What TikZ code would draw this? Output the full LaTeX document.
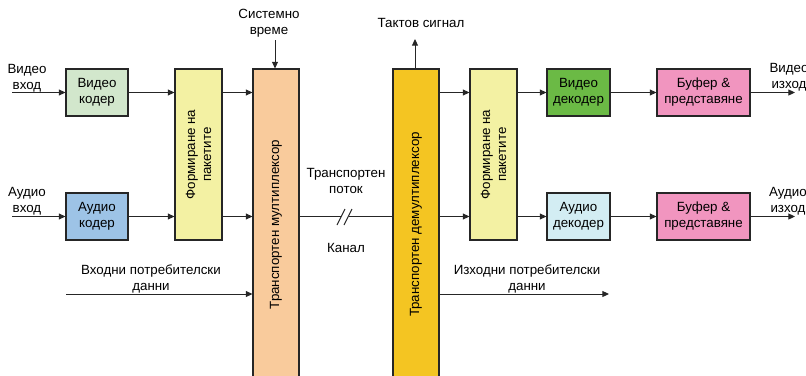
\documentclass[tikz,border=0pt]{standalone}
\usepackage{fontspec}
\setmainfont{Liberation Sans}
\usetikzlibrary{arrows.meta}

\definecolor{vcodfill}{HTML}{D2E7CC}
\definecolor{acodfill}{HTML}{9DC3E6}
\definecolor{packfill}{HTML}{F3F1A3}
\definecolor{muxfill}{HTML}{F9CB9C}
\definecolor{demuxfill}{HTML}{F4C522}
\definecolor{vdecfill}{HTML}{6BBA45}
\definecolor{adecfill}{HTML}{D3EDF3}
\definecolor{buffill}{HTML}{F195BF}

\begin{document}
\begin{tikzpicture}[x=0.75pt,y=-0.75pt,font=\fontsize{10}{12}\selectfont,block/.style={draw=black!85,line width=0.8pt,align=center,inner sep=0pt},flow/.style={draw=black!85,line width=0.75pt,-{Triangle[length=5pt,width=4.5pt]}}]
\tikzstyle{small block} = [block,minimum width=46.5pt,minimum height=35.25pt]
\tikzstyle{tall block} = [block,minimum width=35.25pt,minimum height=128.25pt]
\tikzstyle{mux block} = [block,minimum width=34.5pt,minimum height=233.25pt]
\tikzstyle{sig text} = [align=center,inner sep=0pt]

\useasboundingbox (0,0) rectangle (806,375);

% coders
\node[small block,fill=vcodfill] (vcod) at (97,92.5) {Видео\\кодер};
\node[small block,fill=acodfill] (acod) at (97,216.5) {Аудио\\кодер};
\node[tall block,fill=packfill] (pack1) at (198.5,154.5) {};
\node[rotate=90,sig text] (pack1txt) at (pack1) {Формиране на\\пакетите};

% multiplexer / demultiplexer
\node[mux block,fill=muxfill] (mux) at (276,224.5) {};
\node[rotate=90,sig text] (muxtxt) at (mux) {Транспортен мултиплексор};
\node[mux block,fill=demuxfill] (demux) at (416,224.5) {};
\node[rotate=90,sig text] (demuxtxt) at (demux) {Транспортен демултиплексор};

% decoders
\node[tall block,fill=packfill] (pack2) at (493.5,154.5) {};
\node[rotate=90,sig text] (pack2txt) at (pack2) {Формиране на\\пакетите};
\node[small block,minimum width=47.25pt,fill=vdecfill] (vdec) at (578.5,92.5) {Видео\\декодер};
\node[small block,minimum width=47.25pt,fill=adecfill] (adec) at (578.5,216.5) {Аудио\\декодер};
\node[small block,minimum width=69.75pt,fill=buffill] (vbuf) at (703.5,92.5) {Буфер \&\\представяне};
\node[small block,minimum width=69.75pt,fill=buffill] (abuf) at (703.5,216.5) {Буфер \&\\представяне};

% inputs and outputs
\coordinate (vin) at (12,92.5);
\coordinate (ain) at (12,216.5);
\coordinate (udin) at (66,294);
\coordinate (udout) at (609,294);
\coordinate (systime) at (275,40);
\coordinate (clk) at (415,39);
\coordinate (vout) at (795,92.5);
\coordinate (aout) at (795,216.5);
\coordinate (brkl) at (341,216.5);
\coordinate (brkr) at (349,216.5);

\node[sig text] (vintxt) at (27,78) {Видео\\вход};
\node[sig text] (aintxt) at (27,201) {Аудио\\вход};
\node[sig text] (udintxt) at (151,278.5) {Входни потребителски\\данни};
\node[sig text] (udouttxt) at (527,278.5) {Изходни потребителски\\данни};
\node[sig text] (systimetxt) at (269,23) {Системно\\време};
\node[sig text] (clktxt) at (421,23) {Тактов сигнал};
\node[sig text] (vouttxt) at (789,77) {Видео\\изход};
\node[sig text] (aouttxt) at (788,201) {Аудио\\изход};
\node[sig text] (streamtxt) at (346,180.5) {Транспортен\\поток};
\node[sig text] (chantxt) at (346,248) {Канал};

% video path
\draw[flow] (vin) -- (vcod);
\draw[flow] (vcod) -- (vcod -| pack1.west);
\draw[flow] (pack1.east |- vcod) -- (mux.west |- vcod);
\draw[flow] (demux.east |- vdec) -- (pack2.west |- vdec);
\draw[flow] (pack2.east |- vdec) -- (vdec);
\draw[flow] (vdec) -- (vbuf);
\draw[flow] (vbuf) -- (vout);

% audio path
\draw[flow] (ain) -- (acod);
\draw[flow] (acod) -- (acod -| pack1.west);
\draw[flow] (pack1.east |- acod) -- (mux.west |- acod);
\draw[flow] (demux.east |- adec) -- (pack2.west |- adec);
\draw[flow] (pack2.east |- adec) -- (adec);
\draw[flow] (adec) -- (abuf);
\draw[flow] (abuf) -- (aout);

% user data, timing
\draw[flow] (udin) -- (udin -| mux.west);
\draw[flow] (demux.east |- udout) -- (udout);
\draw[flow] (systime) -- (systime |- mux.north);
\draw[flow] (clk |- demux.north) -- (clk);

% channel
\draw[draw=black!85,line width=0.75pt] (mux.east |- brkl) -- (brkl);
\draw[draw=black!85,line width=0.75pt] (brkr) -- (demux.west |- brkr);
\draw[draw=black!85,line width=0.75pt] (337,225) -- (345,209);
\draw[draw=black!85,line width=0.75pt] (344,225) -- (352,209);

\end{tikzpicture}
\end{document}
